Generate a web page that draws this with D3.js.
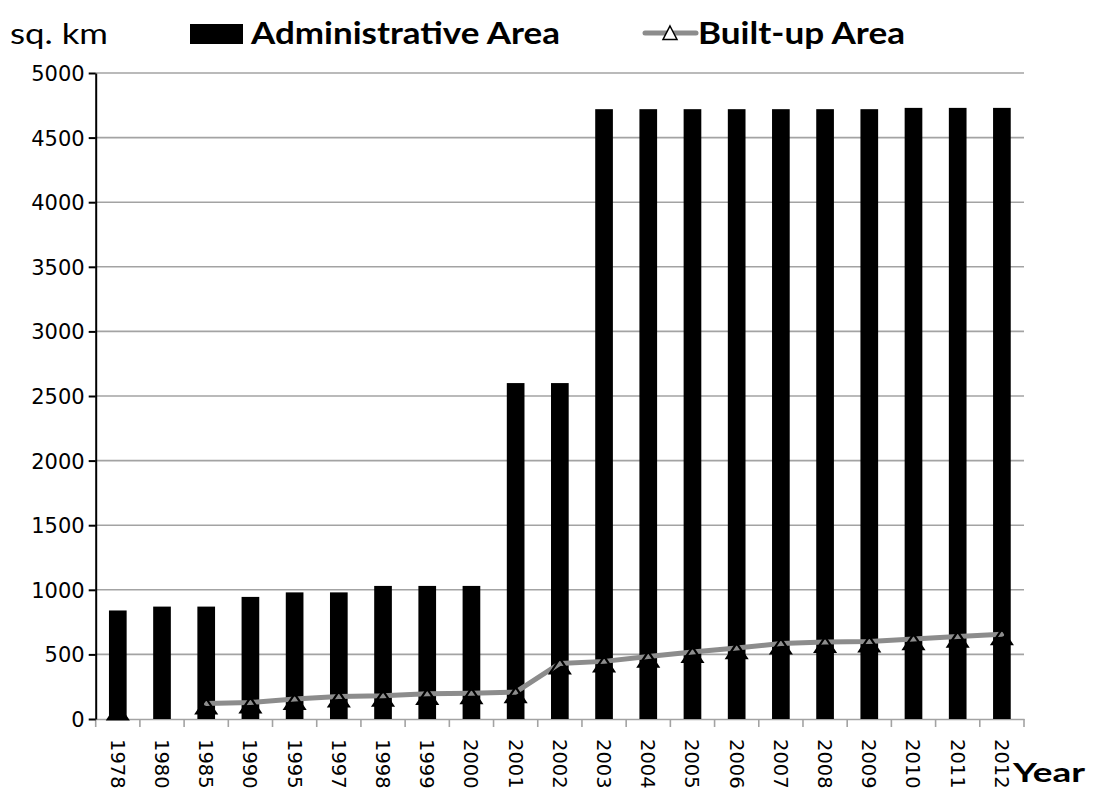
<!DOCTYPE html>
<html>
<head>
<meta charset="utf-8">
<script src="https://cdn.jsdelivr.net/npm/d3@7/dist/d3.min.js"></script>
<style>
  html, body { margin: 0; padding: 0; background: #fff; }
  svg { display: block; }
</style>
</head>
<body>
<svg id="chart" width="1102" height="789"></svg>
<script>
// Years on the category axis
const years = ["1978", "1980", "1985", "1990", "1995", "1997", "1998", "1999", "2000", "2001",
  "2002", "2003", "2004", "2005", "2006", "2007", "2008", "2009", "2010", "2011", "2012"];

// Administrative area, sq. km
const adminArea = [840, 870, 870, 945, 980, 980, 1030, 1030, 1030, 2600,
  2600, 4720, 4720, 4720, 4720, 4720, 4720, 4720, 4730, 4730, 4730];

// Built-up area, sq. km (no figure for 1980)
const builtArea = [75, null, 120, 128, 155, 175, 180, 195, 200, 208,
  430, 446, 483, 519, 549, 585, 596, 600, 619, 638, 656];

// Value-axis ticks
const yTicks = [0, 500, 1000, 1500, 2000, 2500, 3000, 3500, 4000, 4500, 5000];

const svg = d3.select("#chart");
const plotL = 95.7, plotR = 1024, plotT = 73, plotB = 719;

const x = d3.scaleBand().domain(years).range([plotL, plotR]).padding(0);
const y = d3.scaleLinear().domain([0, 5000]).range([plotB, plotT]);
const cx = d => x(d) + x.bandwidth() / 2;

const numFont = "'DejaVu Sans', Verdana, sans-serif";
const labFont = "Lato, 'Open Sans', sans-serif";

// horizontal gridlines
svg.append("g")
  .selectAll("line")
  .data(yTicks.filter(t => t > 0))
  .join("line")
  .attr("x1", plotL).attr("x2", plotR)
  .attr("y1", d => y(d)).attr("y2", d => y(d))
  .attr("stroke", "#a3a3a3").attr("stroke-width", 1.6);

// category axis (gray, ticks between categories)
const xAxis = svg.append("g")
  .attr("transform", `translate(0,${plotB})`)
  .call(d3.axisBottom(x).tickSize(0).tickFormat(""));
xAxis.select(".domain").attr("stroke", "#a3a3a3").attr("stroke-width", 1.6);
const bounds = years.map(d => x(d)).concat([plotR]);
svg.append("g")
  .selectAll("line")
  .data(bounds)
  .join("line")
  .attr("x1", d => d).attr("x2", d => d)
  .attr("y1", plotB).attr("y2", plotB + 8)
  .attr("stroke", "#a3a3a3").attr("stroke-width", 1.6);

// bars
const barW = x.bandwidth() * 0.4;
svg.append("g")
  .selectAll("rect")
  .data(years.map((yr, i) => ({ yr, v: adminArea[i] })))
  .join("rect")
  .attr("x", d => cx(d.yr) - barW / 2)
  .attr("width", barW)
  .attr("y", d => y(d.v))
  .attr("height", d => y(0) - y(d.v))
  .attr("fill", "#000");

// built-up area line: split into runs of consecutive values, isolated points get only a marker
const pts = years.map((yr, i) => ({ yr, v: builtArea[i] }));
const runs = [];
let cur = [];
pts.forEach(p => {
  if (p.v == null) { if (cur.length) runs.push(cur); cur = []; }
  else cur.push(p);
});
if (cur.length) runs.push(cur);
const lineGen = d3.line().x(d => cx(d.yr)).y(d => y(d.v));
svg.append("g")
  .selectAll("path")
  .data(runs.filter(r => r.length > 1))
  .join("path")
  .attr("fill", "none")
  .attr("stroke", "#8c8c8c")
  .attr("stroke-width", 5)
  .attr("stroke-linejoin", "round")
  .attr("stroke-linecap", "round")
  .attr("d", lineGen);

// triangle markers
const tri = "M0,-5 L10,10 L-10,10 Z";
svg.append("g")
  .selectAll("path")
  .data(pts.filter(d => d.v != null))
  .join("path")
  .attr("transform", d => `translate(${cx(d.yr)},${y(d.v)})`)
  .attr("d", tri)
  .attr("fill", "none")
  .attr("stroke", "#000")
  .attr("stroke-width", 2.2)
  .attr("stroke-linejoin", "miter");

// value axis (black)
const yAxis = svg.append("g")
  .attr("transform", `translate(${plotL},0)`)
  .call(d3.axisLeft(y).tickValues(yTicks).tickFormat(d3.format("d"))
    .tickSize(7).tickPadding(4).tickSizeOuter(0));
yAxis.select(".domain").attr("stroke", "#000").attr("stroke-width", 2);
yAxis.selectAll(".tick line").attr("stroke", "#000").attr("stroke-width", 2);
yAxis.selectAll(".tick text")
  .attr("font-family", numFont).attr("font-size", 21).attr("fill", "#000")
  .attr("x", -11).attr("dy", "0.36em");

// year labels, rotated
svg.append("g")
  .selectAll("text")
  .data(years)
  .join("text")
  .attr("transform", d => `translate(${cx(d)},739) rotate(90)`)
  .attr("text-anchor", "start")
  .attr("dy", "0.36em")
  .attr("font-family", numFont).attr("font-size", 19.5).attr("fill", "#000")
  .text(d => d);

// unit label
svg.append("text")
  .attr("x", 10).attr("y", 44)
  .attr("font-family", labFont).attr("font-size", 29).attr("fill", "#000")
  .attr("textLength", 98).attr("lengthAdjust", "spacingAndGlyphs")
  .text("sq. km");

// axis title
svg.append("text")
  .attr("x", 1013).attr("y", 782)
  .attr("font-family", labFont).attr("font-weight", "bold").attr("font-size", 27).attr("fill", "#000")
  .attr("textLength", 72).attr("lengthAdjust", "spacingAndGlyphs")
  .text("Year");

// legend
const lg = svg.append("g");
lg.append("rect").attr("x", 190).attr("y", 24).attr("width", 53).attr("height", 20).attr("fill", "#000");
lg.append("text")
  .attr("x", 251).attr("y", 44)
  .attr("font-family", labFont).attr("font-weight", "bold").attr("font-size", 30).attr("fill", "#000")
  .attr("textLength", 309).attr("lengthAdjust", "spacingAndGlyphs")
  .text("Administrative Area");
lg.append("line").attr("x1", 645).attr("x2", 696).attr("y1", 33).attr("y2", 33)
  .attr("stroke", "#8c8c8c").attr("stroke-width", 5).attr("stroke-linecap", "round");
lg.append("path")
  .attr("transform", "translate(670,33)")
  .attr("d", "M0,-7 L7,6.5 L-7,6.5 Z")
  .attr("fill", "#fff").attr("stroke", "#000").attr("stroke-width", 1.5);
lg.append("text")
  .attr("x", 698).attr("y", 44)
  .attr("font-family", labFont).attr("font-weight", "bold").attr("font-size", 30).attr("fill", "#000")
  .attr("textLength", 207).attr("lengthAdjust", "spacingAndGlyphs")
  .text("Built-up Area");
</script>
</body>
</html>
